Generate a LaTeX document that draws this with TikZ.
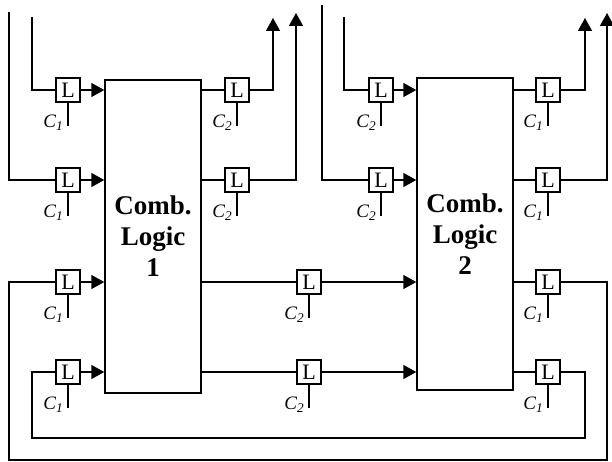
\documentclass[tikz,border=0pt]{standalone}
\usepackage{fontspec}
\setmainfont{Liberation Serif}
\usetikzlibrary{positioning, arrows.meta}

\begin{document}
\begin{tikzpicture}[
  x=1pt, y=-1pt,
  line width=1.4pt,
  latch/.style = {draw, minimum size=24pt, inner sep=0pt, font=\fontsize{22}{22}\selectfont},
  blk/.style   = {draw, minimum width=96pt, align=center, inner sep=0pt, font=\fontsize{27}{31}\selectfont\bfseries},
  clk/.style   = {anchor=base east, inner sep=0pt, font=\fontsize{19}{19}\selectfont\itshape},
  arr/.style   = {-{Triangle[length=13pt, width=14pt]}},
]
\useasboundingbox (0,0) rectangle (612,462);
% combinational blocks
\node[blk, minimum height=313pt] (blk1) at (153,236.5) {Comb.\\Logic\\1};
\node[blk, minimum height=312pt] (blk2) at (465,234) {Comb.\\Logic\\2};
% latches: name/x/y/clock
\foreach \nm/\lx/\ly/\ck in {a1/68/90/1, a2/68/180/1, a3/68/282/1, a4/68/372/1,
    b1/237/90/2, b2/237/180/2, m1/309/282/2, m2/309/372/2,
    c1/381/90/2, c2/381/180/2, d1/548/90/1, d2/548/180/1, d3/548/282/1, d4/548/372/1}{%
  \node[latch] (\nm) at (\lx,\ly) {L};
  \coordinate (\nm c) at ([yshift=-23pt]\nm.south);
  \draw (\nm.south) -- (\nm c);
  \node[clk] (\nm t) at ([xshift=-4pt, yshift=-2pt]\nm c) {C\textsubscript{\ck}};
}
% free ends
\coordinate (in1) at (32,17);  \coordinate (in2) at (9,12);
\coordinate (in3) at (344,17); \coordinate (in4) at (322,5);
\coordinate (out1) at (273,18); \coordinate (out2) at (296,13);
\coordinate (out3) at (585,18); \coordinate (out4) at (607,13);
\coordinate (fb1) at (607,460); \coordinate (fb2) at (9,460);
\coordinate (fb3) at (585,438); \coordinate (fb4) at (32,438);
% block 1 inputs
\draw (in1) |- (a1.west);
\draw (in2) |- (a2.west);
\foreach \nm in {a1,a2,a3,a4}
  \draw[arr] (\nm.east) -- (\nm.east -| blk1.west);
% block 1 outputs
\foreach \nm in {b1,b2,m1,m2}
  \draw (\nm.west -| blk1.east) -- (\nm.west);
\draw[arr] (b1.east) -| (out1);
\draw[arr] (b2.east) -| (out2);
% block 2 inputs
\draw (in3) |- (c1.west);
\draw (in4) |- (c2.west);
\foreach \nm in {c1,c2,m1,m2}
  \draw[arr] (\nm.east) -- (\nm.east -| blk2.west);
% block 2 outputs
\foreach \nm in {d1,d2,d3,d4}
  \draw (\nm.west -| blk2.east) -- (\nm.west);
\draw[arr] (d1.east) -| (out3);
\draw[arr] (d2.east) -| (out4);
% feedback loops
\draw (d3.east) -| (fb1) -- (fb2) |- (a3.west);
\draw (d4.east) -| (fb3) -- (fb4) |- (a4.west);
\end{tikzpicture}
\end{document}
